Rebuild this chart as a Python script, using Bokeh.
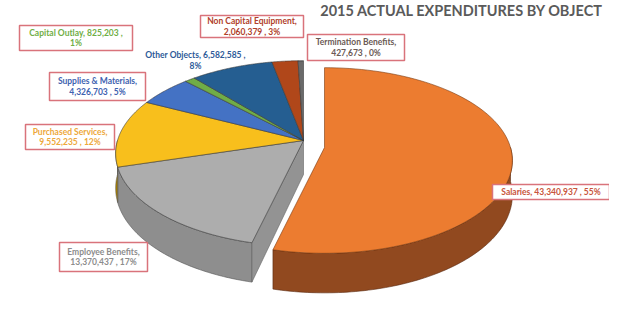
import numpy as np
from bokeh.plotting import figure
from bokeh.models import Range1d
from bokeh.core.properties import value
from bokeh.embed import file_html
from bokeh.resources import INLINE

# ---------------- data ----------------
title = "2015 ACTUAL EXPENDITURES BY OBJECT"
categories = ["Salaries", "Employee Benefits", "Purchased Services", "Supplies & Materials",
              "Capital Outlay", "Other Objects", "Non Capital Equipment", "Termination Benefits"]
amounts = [43340937, 13370437, 9552235, 4326703, 825203, 6582585, 2060379, 427673]
pct_labels = ["55%", "17%", "12%", "5%", "1%", "8%", "3%", "0%"]
top_colors = ["#EC7C30", "#ADADAD", "#F8BF1C", "#4472C4", "#70AD47", "#255E91", "#B0471A", "#6A6A6A"]
wall_colors = ["#91491F", "#8E8E8E", "#A88000", "#2E4F8C", "#4B7A2E", "#173F66", "#7A2F10", "#444444"]
text_colors = ["#C8553A", "#8C8C8C", "#EDA83A", "#3E62B0", "#6FAE45", "#2D5A98", "#B0402A", "#6B5A55"]

# ---------------- layout (reference pixel coords) ----------------
CX, CY, RX, RY, H, K = 311.0, 148.0, 186.0, 91.0, 34.0, 0.14
EXPLODE = [(21.0, 7.0), (0, 0), (0, 0), (0, 0), (0, 0), (0, 0), (0, 0), (0, 0)]

label_layout = {
    "Salaries": ((500, 192, 617, 207), None),
    "Employee Benefits": ((67, 250, 155, 279), "name"),
    "Purchased Services": ((33, 132, 122, 157), "name"),
    "Supplies & Materials": ((57, 80, 153, 108), "name"),
    "Capital Outlay": ((27, 33, 140, 58), "pct"),
    "Other Objects": (None, "pct"),
    "Non Capital Equipment": ((208, 23, 311, 45), "name"),
    "Termination Benefits": ((315, 42, 412, 68), "name"),
}
other_center = (203, 68)

p = figure(width=609, height=298, x_range=Range1d(8, 617), y_range=Range1d(306, 8),
           output_backend="svg", toolbar_location=None, min_border=0)
p.axis.visible = False
p.grid.visible = False
p.outline_line_color = None
p.background_fill_color = "white"

total = float(sum(amounts))


def proj(cx, cy, t_deg, depth=0.0):
    t = np.radians(np.atleast_1d(t_deg))
    d = 1.0 + K * np.sin(t)
    x = cx + RX * np.cos(t) / d
    y = cy - RY * np.sin(t) / d + depth * H / d
    return x, y


walls, tops, faces = [], [], []
start = 90.0
for i, a in enumerate(amounts):
    span = a / total * 360.0
    t0, t1 = start, start - span
    ox, oy = EXPLODE[i]
    cx, cy = CX + ox, CY + oy
    ts = np.linspace(t0, t1, 90)
    ax, ay = proj(cx, cy, ts)
    tops.append((i, [cx] + list(ax), [cy] + list(ay)))
    hi, lo = min(t0, 0.0), max(t1, -180.0)
    if hi > lo:
        tw = np.linspace(hi, lo, 90)
        wx, wy = proj(cx, cy, tw)
        bx, by = proj(cx, cy, tw, 1.0)
        walls.append((i, list(wx) + list(bx[::-1]), list(wy) + list(by[::-1])))
    if i == 1:
        ex, ey = proj(cx, cy, t0)
        ex2, ey2 = proj(cx, cy, t0, 1.0)
        faces.append((i, [cx, ex[0], ex2[0], cx], [cy, ey[0], ey2[0], cy + H]))
    start = t1

exploded = [i for i in range(len(amounts)) if EXPLODE[i] != (0, 0)]


def draw(items, colors, lc):
    for i, xs, ys in items:
        p.patch(xs, ys, fill_color=colors[i], line_color=lc, line_width=0.6)


draw([w for w in walls if w[0] not in exploded], wall_colors, "#555555")
for i, xs, ys in faces:
    p.patch(xs, ys, fill_color="#939393", line_color="#666666", line_width=0.6)
draw([t for t in tops if t[0] not in exploded], top_colors, "#3a3a3a")
draw([w for w in walls if w[0] in exploded], wall_colors, "#5a2a10")
draw([t for t in tops if t[0] in exploded], top_colors, "#7a3a10")

# ---------------- labels ----------------
bx0, by0, bx1, by1 = [], [], [], []
tx, ty, tt, tc = [], [], [], []
for i, cat in enumerate(categories):
    box, split = label_layout[cat]
    amt = f"{amounts[i]:,}"
    if split is None:
        lines = [f"{cat}, {amt} , {pct_labels[i]}"]
    elif split == "name":
        lines = [f"{cat},", f"{amt} , {pct_labels[i]}"]
    else:
        lines = [f"{cat}, {amt} ,", pct_labels[i]]
    if box is not None:
        bx0.append(box[0]); by0.append(box[1]); bx1.append(box[2]); by1.append(box[3])
        mx, my = (box[0] + box[2]) / 2, (box[1] + box[3]) / 2
    else:
        mx, my = other_center
    n = len(lines)
    for k, ln in enumerate(lines):
        tx.append(mx)
        ty.append(my + (k - (n - 1) / 2) * 10.5)
        tt.append(ln)
        tc.append(text_colors[i])

p.quad(left=bx0, right=bx1, top=by0, bottom=by1, fill_color="white",
       line_color="#D9737B", line_width=1.5)
p.text(x=tx, y=ty, text=tt, text_color=tc, text_font=value("Lato"),
       text_font_size="8.5px", text_font_style="bold", text_align="center",
       text_baseline="middle")

p.text(x=[611], y=[18], text=[title], text_color="#5A5A5A", text_font=value("Lato"),
       text_font_size="14.5px", text_font_style="bold", text_align="right",
       text_baseline="middle")

open("out.html", "w").write(file_html(p, INLINE))
